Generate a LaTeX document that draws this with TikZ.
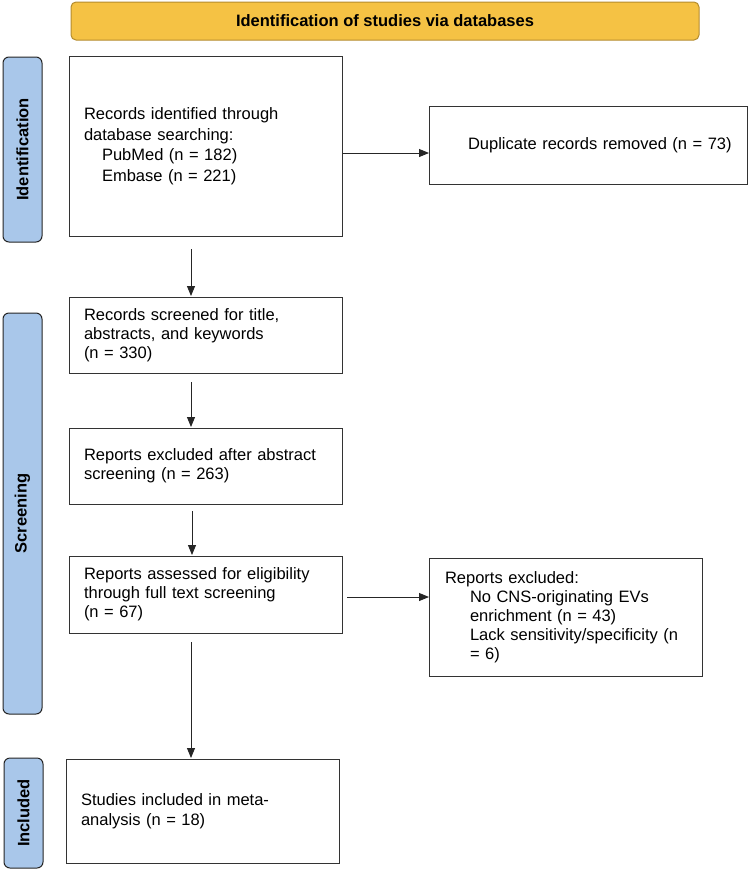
\documentclass[tikz,border=0pt]{standalone}
\usepackage{fontspec}
\setmainfont{Liberation Sans}
\usetikzlibrary{arrows.meta}
\definecolor{bannerfill}{HTML}{F5C244}
\definecolor{bannerdraw}{HTML}{B48C2E}
\definecolor{phasefill}{HTML}{A9C7EA}
\definecolor{phasedraw}{HTML}{252525}
\newcommand{\fsz}{\fontsize{16.5}{19}\selectfont}
\tikzset{
  flowbox/.style={draw=black!80, line width=1pt, inner xsep=15pt, inner ysep=0pt,
    outer sep=0pt, align=left, font=\fsz, text width=243pt, minimum width=273pt},
  phase/.style={draw=phasedraw, fill=phasefill, line width=1pt, rounded corners=6pt,
    rotate=90, minimum height=39pt, inner sep=0pt, outer sep=0pt,
    font=\fontsize{16.5}{19}\selectfont\bfseries},
  arr/.style={-{Triangle[length=10pt,width=8pt]}, line width=0.9pt, draw=black!85},
}
\begin{document}
\begin{tikzpicture}[x=1pt,y=-1pt]
\useasboundingbox (0,0) rectangle (749,871);
% banner
\node[draw=bannerdraw, fill=bannerfill, line width=1pt, rounded corners=5pt,
  minimum width=628pt, minimum height=38pt, inner sep=0pt,
  font=\fontsize{16.5}{19}\selectfont\bfseries] (banner) at (385,21)
  {Identification of studies via databases};
% phase labels
\node[phase, minimum width=185pt] (pid) at (22.5,149.5) {Identification};
\node[phase, minimum width=401pt] (pscr) at (22.5,513.5) {Screening};
\node[phase, minimum width=110pt] (pinc) at (23.5,813) {Included};
% boxes
\node[flowbox, minimum height=180pt, font=\fontsize{16.5}{20.5}\selectfont] (b1) at (205.5,146)
  {Records identified through\\database searching:\\\hspace*{18pt}PubMed (n = 182)\\\hspace*{18pt}Embase (n = 221)};
\node[flowbox, minimum width=318pt, text width=288pt, minimum height=78pt] (dup) at (588,145)
  {\hspace*{24pt}Duplicate records removed (n = 73)};
\node[flowbox, minimum height=76pt] (b2) at (205.5,335)
  {Records screened for title,\\abstracts, and keywords\\(n = 330)};
\node[flowbox, minimum height=76pt] (b3) at (205.5,466)
  {Reports excluded after abstract\\screening (n = 263)};
\node[flowbox, minimum height=77pt] (b4) at (205.5,594.5)
  {Reports assessed for eligibility\\through full text screening\\(n = 67)};
\node[flowbox, inner xsep=16pt, text width=241pt, minimum height=118pt] (excl) at (565.5,617)
  {Reports excluded:\\\hspace*{25pt}No CNS-originating EVs\\\hspace*{25pt}enrichment (n = 43)\\\hspace*{25pt}Lack sensitivity/specificity (n\\\hspace*{25pt}= 6)};
\node[flowbox, minimum height=104pt, font=\fontsize{16.5}{20}\selectfont] (b5) at (202.5,811)
  {Studies included in meta-\\analysis (n = 18)};
% connectors
\draw[arr, shorten <=1pt] (b1.east |- 0,153) -- (dup.west |- 0,153);
\draw[arr, shorten <=13pt, shorten >=1pt] (b1.south -| 191,0) -- (b2.north -| 191,0);
\draw[arr, shorten <=9pt, shorten >=1pt] (b2.south -| 191,0) -- (b3.north -| 191,0);
\draw[arr, shorten <=7pt, shorten >=1pt] (b3.south -| 192,0) -- (b4.north -| 192,0);
\draw[arr, shorten <=5pt] (b4.east |- 0,597) -- (excl.west |- 0,597);
\draw[arr, shorten <=9pt, shorten >=1pt] (b4.south -| 191,0) -- (b5.north -| 191,0);
\end{tikzpicture}
\end{document}
